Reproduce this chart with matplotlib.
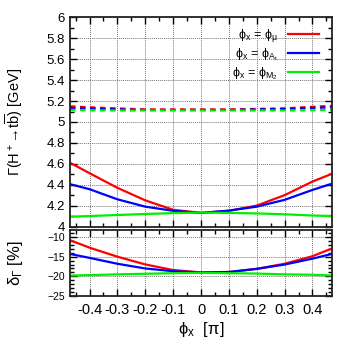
import numpy as np
import matplotlib
matplotlib.use("Agg")
import matplotlib.pyplot as plt
from matplotlib.ticker import MultipleLocator, FuncFormatter

plt.rcParams['font.family'] = ['Liberation Sans', 'DejaVu Sans']
plt.rcParams['mathtext.default'] = 'regular'

# phase of the varied parameter, in units of pi
phi = [-0.47, -0.4, -0.3, -0.2, -0.1, 0.0, 0.1, 0.2, 0.3, 0.4, 0.47]

# corrected width Gamma(H+ -> t bbar) [GeV]
gam_mu  = [4.61, 4.51, 4.37, 4.25, 4.16, 4.13, 4.15, 4.20, 4.30, 4.43, 4.505]
gam_At  = [4.405, 4.357, 4.26, 4.19, 4.15, 4.13, 4.152, 4.19, 4.255, 4.35, 4.41]
gam_M2  = [4.094, 4.10, 4.11, 4.12, 4.128, 4.133, 4.13, 4.125, 4.117, 4.105, 4.10]

# tree-level width (dashed)
tree_mu = [5.15, 5.14, 5.13, 5.12, 5.12, 5.12, 5.12, 5.125, 5.13, 5.145, 5.155]
tree_At = [5.135, 5.13, 5.12, 5.115, 5.115, 5.115, 5.115, 5.12, 5.125, 5.135, 5.14]
tree_M2 = [5.115, 5.112, 5.11, 5.11, 5.11, 5.11, 5.11, 5.11, 5.11, 5.112, 5.115]

# relative correction delta_Gamma [%]
del_mu = [-10.8, -12.7, -15.0, -16.97, -18.4, -19.0, -18.9, -18.1, -16.8, -14.87, -12.9]
del_At = [-14.3, -15.3, -16.8, -18.0, -18.7, -19.0, -18.9, -18.1, -17.0, -15.5, -14.3]
del_M2 = [-19.8, -19.7, -19.5, -19.35, -19.2, -19.1, -19.2, -19.3, -19.5, -19.6, -19.8]

labels = [r'$\phi_x$ = $\phi_\mu$', r'$\phi_x$ = $\phi_{A_t}$', r'$\phi_x$ = $\phi_{M_2}$']
colors = ['#ff0000', '#0000ff', '#00ee00']

fig = plt.figure(figsize=(3.49, 3.49), dpi=100)
ax1 = fig.add_axes([0.2006, 0.351, 0.7507, 0.599])
ax2 = fig.add_axes([0.2006, 0.152, 0.7507, 0.189])

lw = 1.6
for y, c, lab in zip([gam_mu, gam_At, gam_M2], colors, labels):
    ax1.plot(phi, y, color=c, lw=lw, label=lab)
for y, c in zip([tree_mu, tree_At, tree_M2], colors):
    ax1.plot(phi, y, color=c, lw=lw, ls=(0, (2.5, 2)))
for y, c in zip([del_mu, del_At, del_M2], colors):
    ax2.plot(phi, y, color=c, lw=lw)

for ax in (ax1, ax2):
    ax.set_xlim(-0.47, 0.47)
    ax.xaxis.set_major_locator(MultipleLocator(0.1))
    ax.xaxis.set_minor_locator(MultipleLocator(0.05))
    ax.tick_params(which='both', direction='in', top=True, right=True, width=1)
    ax.tick_params(which='major', length=5)
    ax.tick_params(which='minor', length=3)
    ax.grid(True, which='major', color='#777777', ls=(0, (1, 1)), lw=0.7)
    for s in ax.spines.values():
        s.set_linewidth(1.3)
        s.set_color('#222222')

ax1.set_ylim(4, 6)
ax1.yaxis.set_major_locator(MultipleLocator(0.2))
ax1.yaxis.set_minor_locator(MultipleLocator(0.1))
ax1.yaxis.set_major_formatter(FuncFormatter(lambda v, p: '%g' % round(v, 2)))
ax1.tick_params(axis='y', labelsize=9.5)
ax1.tick_params(axis='x', labelbottom=False)
ax1.set_ylabel(r'$\Gamma$(H$^+$' + '\u2192' + r't$\overline{b}$) [GeV]', fontsize=10.5)
ax1.yaxis.set_label_coords(-0.17, 0.5)

ax2.set_ylim(-25, -8.2)
ax2.yaxis.set_major_locator(MultipleLocator(5))
ax2.yaxis.set_minor_locator(MultipleLocator(1))
ax2.tick_params(axis='y', labelsize=7.5)
ax2.tick_params(axis='x', labelsize=10.5, pad=5)
ax2.xaxis.set_major_formatter(FuncFormatter(lambda v, p: '%g' % round(v, 2)))
ax2.set_ylabel(r'$\delta_\Gamma$ [%]', fontsize=12)
ax2.yaxis.set_label_coords(-0.17, 0.5)
ax2.set_xlabel(r'$\phi_x$  [$\pi$]', fontsize=12, labelpad=2)

ax1.legend(loc='upper right', frameon=False, fontsize=9, markerfirst=False,
           handlelength=2.5, labelspacing=0.2, borderaxespad=0.3,
           bbox_to_anchor=(0.985, 0.995))

fig.savefig('out.png', dpi=100)
